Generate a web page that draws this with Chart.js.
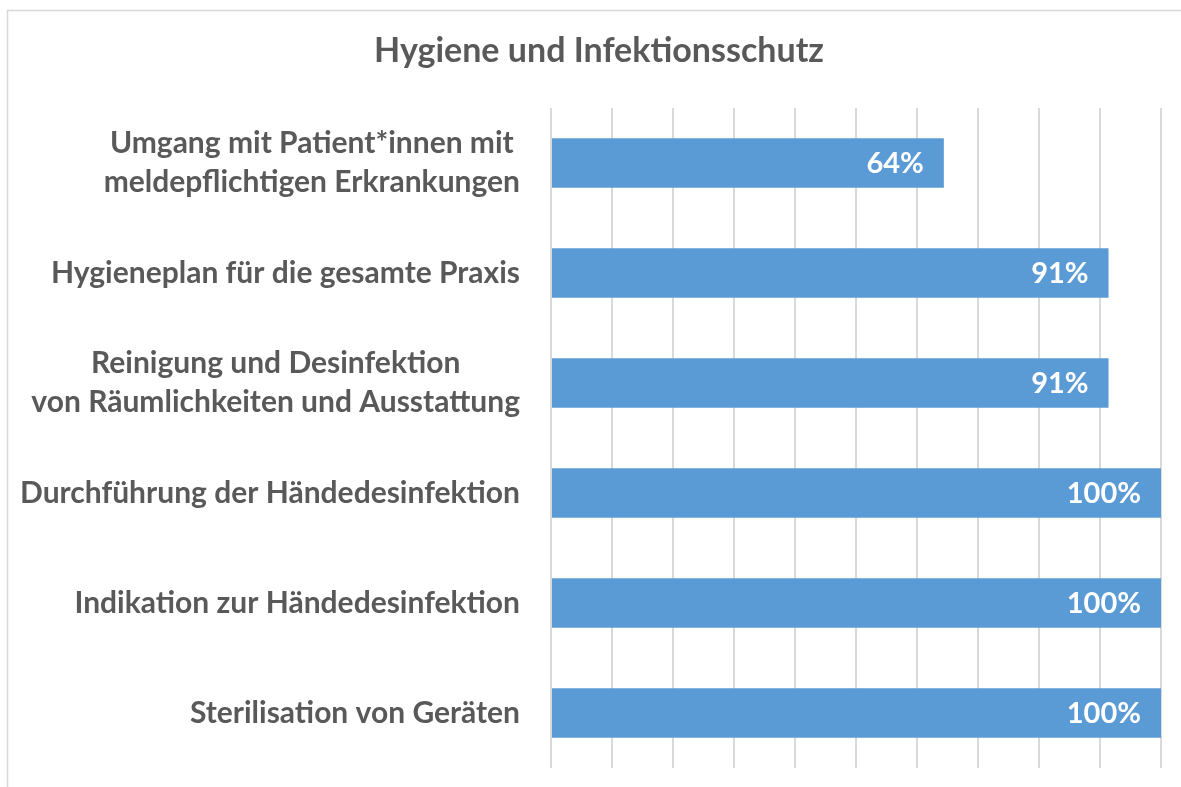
<!DOCTYPE html>
<html>
<head>
<meta charset="utf-8">
<script src="https://cdn.jsdelivr.net/npm/chart.js@4/dist/chart.umd.min.js"></script>
<style>
  html, body { margin: 0; padding: 0; background: #ffffff; }
  #wrap { width: 1181px; height: 787px; }
</style>
</head>
<body>
<div id="wrap"><canvas id="c" width="1181" height="787"></canvas></div>
<script>
const chartTitle = 'Hygiene und Infektionsschutz';
const categories = [
  ['Umgang mit Patient*innen mit', 'meldepflichtigen Erkrankungen'],
  'Hygieneplan für die gesamte Praxis',
  ['Reinigung und Desinfektion', 'von Räumlichkeiten und Ausstattung'],
  'Durchführung der Händedesinfektion',
  'Indikation zur Händedesinfektion',
  'Sterilisation von Geräten'
];
const percentValues = [64.4, 91.4, 91.4, 100, 100, 100];
const axisMin = 0;
const axisMax = 100;
const axisStep = 10;

const FONT = 'Lato, "Open Sans", "DejaVu Sans", sans-serif';
const TEXT_GREY = '#595959';
const BAR_BLUE = '#5b9bd5';

const frame = {
  id: 'frame',
  beforeDraw(chart) {
    const ctx = chart.ctx;
    ctx.save();
    ctx.fillStyle = '#ffffff';
    ctx.fillRect(0, 0, chart.width, chart.height);
    ctx.strokeStyle = '#d9d9d9';
    ctx.lineWidth = 1.5;
    ctx.strokeRect(7.5, 10.5, chart.width + 50, chart.height + 50);
    ctx.restore();
  }
};

// Center the lines of multi-line category labels relative to each other,
// keeping the block right-aligned to the axis.
const centerMultiline = {
  id: 'centerMultiline',
  beforeDraw(chart) {
    const scale = chart.scales.y;
    const items = scale.getLabelItems();
    if (!items || items._patched) return;
    const ctx = chart.ctx;
    const out = [];
    items.forEach(it => {
      if (Array.isArray(it.label) && it.label.length > 1) {
        ctx.save();
        ctx.font = it.font.string;
        const widths = it.label.map(l => ctx.measureText(l).width);
        ctx.restore();
        const maxW = Math.max(...widths);
        const tr = it.options.translation;
        const cx = tr[0] - maxW / 2;
        it.label.forEach((line, i) => {
          out.push({
            label: line,
            font: it.font,
            textOffset: it.textOffset + i * it.font.lineHeight,
            options: Object.assign({}, it.options, { textAlign: 'center', translation: [cx, tr[1]] })
          });
        });
      } else {
        out.push(it);
      }
    });
    out._patched = true;
    scale._labelItems = out;
  }
};

const barLabels = {
  id: 'barLabels',
  afterDatasetsDraw(chart) {
    const ctx = chart.ctx;
    const meta = chart.getDatasetMeta(0);
    const data = chart.data.datasets[0].data;
    ctx.save();
    ctx.fillStyle = '#ffffff';
    ctx.font = 'bold 29px ' + FONT;
    ctx.textAlign = 'right';
    ctx.textBaseline = 'middle';
    meta.data.forEach((bar, i) => {
      ctx.fillText(Math.round(data[i]) + '%', bar.x - 20, bar.y + 1);
    });
    ctx.restore();
  }
};

new Chart(document.getElementById('c'), {
  type: 'bar',
  data: {
    labels: categories,
    datasets: [{
      data: percentValues,
      backgroundColor: BAR_BLUE,
      borderWidth: 0,
      categoryPercentage: 1,
      barPercentage: 0.45
    }]
  },
  options: {
    indexAxis: 'y',
    responsive: false,
    animation: false,
    devicePixelRatio: 1,
    layout: { padding: { left: 37, right: 20, top: 0, bottom: 19 } },
    plugins: {
      legend: { display: false },
      tooltip: { enabled: false },
      title: {
        display: true,
        text: chartTitle,
        color: TEXT_GREY,
        font: { family: FONT, weight: 'bold', size: 34, lineHeight: 1.2 },
        padding: { top: 31, bottom: 36.2 }
      }
    },
    scales: {
      x: {
        min: axisMin,
        max: axisMax,
        ticks: { display: false, stepSize: axisStep },
        grid: { color: '#d9d9d9', lineWidth: 2, drawTicks: false },
        border: { display: false }
      },
      y: {
        grid: { display: false, drawTicks: false },
        border: { display: false },
        ticks: {
          color: TEXT_GREY,
          padding: 31,
          font: { family: FONT, weight: 'bold', size: 30, lineHeight: 1.3 }
        },
        afterFit(scale) {
          scale.width = 514;
          scale.paddingTop = 0;
          scale.paddingBottom = 0;
          scale._computeLabelArea = function () { return undefined; };
        }
      }
    }
  },
  plugins: [frame, centerMultiline, barLabels]
});
</script>
</body>
</html>
